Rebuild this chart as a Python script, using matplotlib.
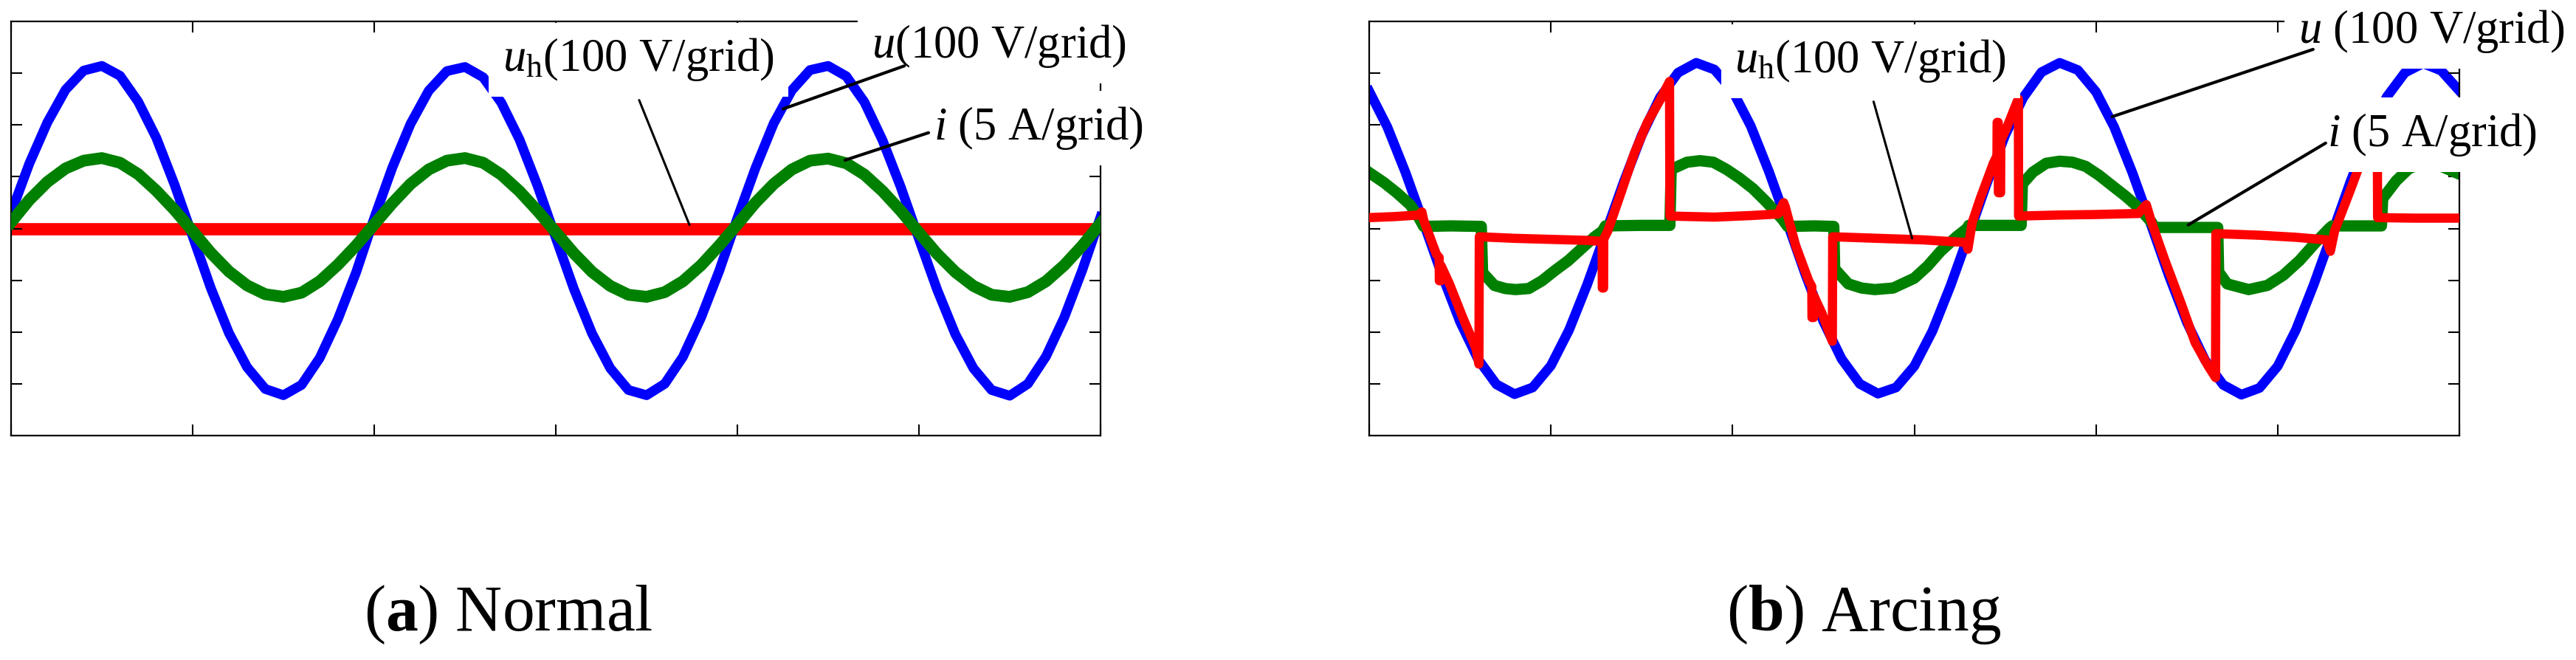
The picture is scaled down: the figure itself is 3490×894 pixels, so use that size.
import matplotlib
matplotlib.use("Agg")
import matplotlib.pyplot as plt

plt.rcParams['font.family'] = 'Liberation Serif'
plt.rcParams['mathtext.fontset'] = 'custom'
plt.rcParams['mathtext.rm'] = 'Liberation Serif'
plt.rcParams['mathtext.it'] = 'Liberation Serif:italic'
plt.rcParams['mathtext.bf'] = 'Liberation Serif:bold'

# time axis in grid divisions (6 per screen), amplitude in grid divisions (+-4)
t_a = [0.0, 0.1, 0.2, 0.3, 0.4, 0.5, 0.6, 0.7, 0.8, 0.9,
       1.0, 1.1, 1.2, 1.3, 1.4, 1.5, 1.6, 1.7, 1.8, 1.9,
       2.0, 2.1, 2.2, 2.3, 2.4, 2.5, 2.6, 2.7, 2.8, 2.9,
       3.0, 3.1, 3.2, 3.3, 3.4, 3.5, 3.6, 3.7, 3.8, 3.9,
       4.0, 4.1, 4.2, 4.3, 4.4, 4.5, 4.6, 4.7, 4.8, 4.9,
       5.0, 5.1, 5.2, 5.3, 5.4, 5.5, 5.6, 5.7, 5.8, 5.9, 6.0]

# (a) normal
u_a = [0.30, 1.25, 2.05, 2.68, 3.05, 3.14, 2.95, 2.45, 1.75, 0.85,
       -0.15, -1.15, -2.02, -2.68, -3.10, -3.22, -3.02, -2.50, -1.75, -0.85,
       0.20, 1.18, 2.02, 2.66, 3.04, 3.12, 2.92, 2.43, 1.72, 0.82,
       -0.18, -1.17, -2.03, -2.70, -3.12, -3.22, -3.00, -2.48, -1.72, -0.82,
       0.20, 1.17, 2.03, 2.67, 3.06, 3.14, 2.94, 2.44, 1.70, 0.80,
       -0.20, -1.18, -2.04, -2.70, -3.12, -3.23, -3.00, -2.47, -1.72, -0.80, 0.22]
i_a = [0.12, 0.55, 0.90, 1.16, 1.31, 1.36, 1.27, 1.05, 0.73, 0.36,
       -0.05, -0.47, -0.83, -1.10, -1.27, -1.32, -1.24, -1.02, -0.70, -0.33,
       0.08, 0.49, 0.86, 1.14, 1.31, 1.36, 1.27, 1.04, 0.72, 0.34,
       -0.07, -0.48, -0.84, -1.11, -1.28, -1.32, -1.23, -1.02, -0.71, -0.33,
       0.08, 0.50, 0.86, 1.14, 1.31, 1.35, 1.26, 1.04, 0.72, 0.34,
       -0.08, -0.49, -0.84, -1.11, -1.28, -1.32, -1.23, -1.02, -0.71, -0.33, 0.10]
t_uh_a = [0.0, 1.0, 2.0, 3.0, 4.0, 5.0, 6.0]
uh_a = [0.0, 0.0, 0.0, 0.0, 0.0, 0.0, 0.0]

# (b) arcing
u_b = [2.65, 1.96, 1.08, 0.10, -0.89, -1.80, -2.53, -3.01, -3.20, -3.07,
       -2.65, -1.96, -1.08, -0.10, 0.89, 1.80, 2.53, 3.01, 3.20, 3.07,
       2.66, 1.98, 1.10, 0.12, -0.88, -1.80, -2.52, -3.00, -3.19, -3.07,
       -2.66, -1.98, -1.10, -0.12, 0.88, 1.80, 2.53, 3.02, 3.20, 3.06,
       2.64, 1.96, 1.08, 0.10, -0.90, -1.81, -2.54, -3.02, -3.21, -3.08,
       -2.66, -1.96, -1.07, -0.09, 0.90, 1.81, 2.54, 3.01, 3.19, 3.05, 2.66]

t_i_b = [0.0, 0.08, 0.152, 0.225, 0.27, 0.30, 0.45, 0.617, 0.624, 0.689,
         0.75, 0.805, 0.878, 0.951, 1.023, 1.096, 1.168, 1.241, 1.284, 1.30,
         1.50, 1.655, 1.662, 1.749, 1.821, 1.894, 1.967, 2.039, 2.112, 2.184,
         2.274, 2.303, 2.45, 2.557, 2.562, 2.637, 2.71, 2.782, 2.884, 3.0,
         3.072, 3.145, 3.232, 3.29, 3.30, 3.45, 3.588, 3.595, 3.653, 3.726,
         3.80, 3.871, 3.943, 4.016, 4.088, 4.161, 4.233, 4.306, 4.321, 4.50,
         4.67, 4.675, 4.722, 4.84, 4.943, 5.032, 5.12, 5.209, 5.283, 5.30,
         5.45, 5.571, 5.578, 5.652, 5.72, 5.80, 5.90, 6.0]
i_b = [1.08, 0.89, 0.69, 0.46, 0.23, 0.04, 0.05, 0.04, -0.85, -1.10,
       -1.16, -1.18, -1.16, -1.01, -0.81, -0.62, -0.39, -0.16, -0.05, 0.05,
       0.06, 0.06, 1.14, 1.28, 1.31, 1.28, 1.14, 0.97, 0.77, 0.52,
       0.18, 0.04, 0.05, 0.04, -0.78, -1.07, -1.15, -1.18, -1.15, -0.96,
       -0.73, -0.44, -0.16, 0.0, 0.06, 0.06, 0.06, 0.86, 1.09, 1.26,
       1.30, 1.28, 1.20, 1.03, 0.83, 0.63, 0.41, 0.12, 0.02, 0.02,
       0.02, -0.84, -1.07, -1.18, -1.10, -0.90, -0.62, -0.27, 0.0, 0.05,
       0.05, 0.05, 0.58, 0.92, 1.15, 1.28, 1.20, 1.05]

t_uh_b = [0.0, 0.14, 0.27, 0.29, 0.30, 0.37, 0.385, 0.386, 0.395, 0.396,
          0.443, 0.515, 0.588, 0.604, 0.606, 0.80, 1.00, 1.20, 1.282, 1.283,
          1.290, 1.291, 1.313, 1.386, 1.459, 1.531, 1.604, 1.653, 1.655, 1.90,
          2.10, 2.25, 2.281, 2.290, 2.347, 2.419, 2.436, 2.437, 2.446, 2.447,
          2.492, 2.549, 2.551, 2.80, 3.05, 3.285, 3.295, 3.319, 3.363, 3.435,
          3.455, 3.456, 3.462, 3.463, 3.475, 3.476, 3.508, 3.566, 3.573, 3.574,
          3.80, 4.00, 4.233, 4.277, 4.306, 4.379, 4.471, 4.545, 4.618, 4.658,
          4.660, 4.90, 5.10, 5.268, 5.290, 5.313, 5.357, 5.401, 5.438, 5.50,
          5.548, 5.550, 5.75, 6.0]
uh_b = [0.21, 0.23, 0.26, 0.32, 0.16, -0.50, -0.56, -1.01, -1.01, -0.72,
        -1.08, -1.72, -2.32, -2.62, -0.16, -0.19, -0.21, -0.23, -0.25, -1.15,
        -1.15, -0.20, -0.05, 0.69, 1.45, 2.05, 2.50, 2.84, 0.24, 0.22,
        0.25, 0.28, 0.50, 0.42, -0.33, -1.01, -1.12, -1.72, -1.72, -1.30,
        -1.64, -2.18, -0.16, -0.19, -0.22, -0.27, -0.40, 0.12, 0.58, 1.26,
        1.40, 2.05, 2.05, 0.69, 0.69, 1.70, 1.94, 2.45, 2.50, 0.24,
        0.26, 0.27, 0.29, 0.46, 0.12, -0.61, -1.47, -2.20, -2.66, -2.88,
        -0.10, -0.13, -0.17, -0.22, -0.44, -0.05, 0.35, 0.75, 1.10, 1.70,
        2.18, 0.21, 0.20, 0.20]

# labels: text, text anchor (left, baseline), leader start, leader end, leader width
labels_a = [(r'$u_{\mathrm{h}}$(100 V/grid)', (2.707, 3.04), (3.459, 2.48), (3.736, 0.07), 2.2),
            (r'$u$(100 V/grid)', (4.74, 3.30), (4.919, 3.14), (4.252, 2.31), 3.0),
            (r'$i$ (5 A/grid)', (5.081, 1.72), (5.053, 1.85), (4.593, 1.32), 3.0)]
labels_b = [(r'$u_{\mathrm{h}}$(100 V/grid)', (2.012, 3.01), (2.776, 2.45), (2.988, -0.19), 2.2),
            (r'$u$ (100 V/grid)', (5.114, 3.58), (5.195, 3.46), (4.089, 2.16), 3.0),
            (r'$i$ (5 A/grid)', (5.272, 1.59), (5.264, 1.65), (4.508, 0.07), 3.0)]

BLUE = '#0000ff'
GREEN = '#008000'
RED = '#ff0000'

W, H = 3490, 894
fig = plt.figure(figsize=(W / 100, H / 100), dpi=100)
ax_a = fig.add_axes([15 / W, (H - 590) / H, 1476 / W, 561 / H])
ax_b = fig.add_axes([1855 / W, (H - 590) / H, 1477 / W, 561 / H])


def style(ax):
    ax.set_xlim(0, 6)
    ax.set_ylim(-4, 4)
    ax.set_xticks([0, 1, 2, 3, 4, 5, 6])
    ax.set_yticks([-3, -2, -1, 0, 1, 2, 3])
    ax.tick_params(direction='in', length=11, width=1.5, top=True, right=True,
                   labelbottom=False, labelleft=False)
    for s in ax.spines.values():
        s.set_linewidth(1.6)


def put_labels(ax, labels):
    for txt, pos, start, end, lw in labels:
        ax.text(pos[0], pos[1], txt, fontsize=45, ha='left', va='baseline',
                zorder=5, bbox=dict(boxstyle='square,pad=0.3', fc='white', ec='none'))
        ax.annotate('', xy=end, xytext=start, zorder=6, annotation_clip=False,
                    arrowprops=dict(arrowstyle='-', color='black', lw=lw,
                                    shrinkA=0, shrinkB=0))


ax_a.plot(t_uh_a, uh_a, color=RED, lw=12, zorder=1)
ax_a.plot(t_a, u_a, color=BLUE, lw=9.5, zorder=2)
ax_a.plot(t_a, i_a, color=GREEN, lw=11.5, zorder=3)
style(ax_a)
put_labels(ax_a, labels_a)

ax_b.plot(t_a, u_b, color=BLUE, lw=9.5, zorder=1)
ax_b.plot(t_i_b, i_b, color=GREEN, lw=11, zorder=2)
ax_b.plot(t_uh_b, uh_b, color=RED, lw=9, zorder=3)
style(ax_b)
put_labels(ax_b, labels_b)

fig.text(689 / W, 40 / H, r'($\mathbf{a}$) Normal', fontsize=63, ha='center', va='baseline')
fig.text(2525 / W, 40 / H, r'($\mathbf{b}$) Arcing', fontsize=63, ha='center', va='baseline')

fig.savefig('out.png', dpi=100)
